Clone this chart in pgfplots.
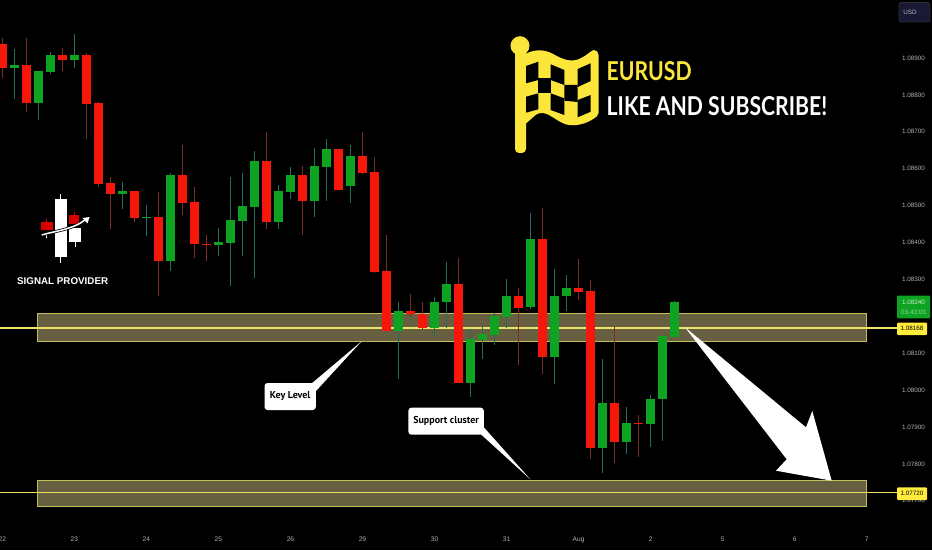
\documentclass[border=0pt]{standalone}
\usepackage{pgfplots}
\usepackage{pgfplotstable}
\usepackage{fontspec}
\pgfplotsset{compat=1.18}
\setmainfont{Liberation Sans}
\newfontfamily\headfont[FakeStretch=0.815]{Lato}
\newfontfamily\callfont{PT Sans}
\definecolor{cred}{HTML}{F5170A}
\definecolor{cgreen}{HTML}{0FA322}
\definecolor{wred}{HTML}{7A2E26}
\definecolor{wgreen}{HTML}{1E6E58}
\definecolor{zonefill}{HTML}{666040}
\definecolor{zoneline}{HTML}{C4BD5C}
\definecolor{lvl}{HTML}{EDE56A}
\definecolor{tagy}{HTML}{FFEB3B}
\definecolor{flagy}{HTML}{FDE63C}
\definecolor{ticktext}{HTML}{B4B4B4}
% candle index, high, body top, body bottom, low
\pgfplotstableread{
i h t b l
0 1.08954 1.08938 1.08874 1.08846
2 1.08953 1.08880 1.08779 1.08754
5 1.08926 1.08907 1.08895 1.08866
7 1.08914 1.08908 1.08776 1.08681
8 1.08782 1.08778 1.08559 1.08551
9 1.08578 1.08561 1.08532 1.08437
11 1.08540 1.08539 1.08467 1.08456
13 1.08536 1.08468 1.08351 1.08255
15 1.08663 1.08583 1.08508 1.08475
16 1.08550 1.08510 1.08396 1.08358
17 1.08420 1.08397 1.08393 1.08351
22 1.08699 1.08621 1.08456 1.08436
25 1.08608 1.08583 1.08512 1.08421
28 1.08653 1.08653 1.08543 1.08543
30 1.08699 1.08634 1.08589 1.08586
31 1.08633 1.08591 1.08320 1.08318
32 1.08420 1.08323 1.08160 1.08160
34 1.08260 1.08214 1.08206 1.08199
35 1.08239 1.08206 1.08169 1.08163
38 1.08359 1.08288 1.08020 1.08020
43 1.08276 1.08254 1.08223 1.08068
45 1.08493 1.08409 1.08091 1.08044
48 1.08354 1.08276 1.08267 1.08244
49 1.08298 1.08268 1.07843 1.07814
51 1.08174 1.07964 1.07860 1.07802
53 1.07933 1.07912 1.07909 1.07819
}\reds
\pgfplotstableread{
i h t b l
1 1.08924 1.08880 1.08874 1.08788
3 1.08865 1.08865 1.08779 1.08732
4 1.08915 1.08908 1.08862 1.08857
6 1.08965 1.08907 1.08895 1.08874
10 1.08565 1.08539 1.08532 1.08492
12 1.08502 1.08469 1.08466 1.08418
14 1.08589 1.08582 1.08351 1.08324
18 1.08439 1.08401 1.08393 1.08363
19 1.08578 1.08461 1.08399 1.08283
20 1.08589 1.08499 1.08458 1.08363
21 1.08647 1.08621 1.08497 1.08303
23 1.08555 1.08540 1.08456 1.08437
24 1.08605 1.08583 1.08538 1.08519
26 1.08656 1.08607 1.08512 1.08469
27 1.08681 1.08653 1.08605 1.08513
29 1.08664 1.08634 1.08554 1.08508
33 1.08240 1.08214 1.08160 1.08029
36 1.08252 1.08240 1.08169 1.08147
37 1.08347 1.08288 1.08240 1.08167
39 1.08165 1.08138 1.08020 1.07982
40 1.08174 1.08151 1.08136 1.08085
41 1.08209 1.08200 1.08149 1.08122
42 1.08301 1.08254 1.08199 1.08168
44 1.08481 1.08409 1.08224 1.08219
46 1.08328 1.08255 1.08091 1.08017
47 1.08311 1.08276 1.08256 1.08215
50 1.08085 1.07964 1.07843 1.07775
52 1.07955 1.07911 1.07860 1.07827
54 1.07986 1.07976 1.07909 1.07846
55 1.08147 1.08146 1.07976 1.07863
56 1.08241 1.08240 1.08144 1.08144
}\greens
\newcommand{\candles}[3]{%
\addplot[draw=none, no markers, forget plot, error bars/.cd, y dir=both, y explicit, error mark=none,
  error bar style={draw=#2, line width=0.9pt}]
  table[x=i, y=t, y error plus expr=\thisrow{h}-\thisrow{t}, y error minus expr=\thisrow{t}-\thisrow{l}] {#1};
\addplot[draw=none, no markers, forget plot, error bars/.cd, y dir=minus, y explicit, error mark=none,
  error bar style={draw=#3, line width=8.8pt}]
  table[x=i, y=t, y error minus expr=\thisrow{t}-\thisrow{b}] {#1};
}
\begin{document}
\begin{tikzpicture}
\useasboundingbox (0,0) rectangle (932pt,550pt);
\begin{axis}[
  scale only axis, width=932pt, height=550pt,
  xmin=-0.192, xmax=77.44, ymin=1.075667, ymax=1.090572,
  axis background/.style={fill=black},
  axis line style={draw=none},
  major tick length=0pt,
  tick style={draw=none},
  xtick={0,6,12,18,24,30,36,42,48,54,60,66,72},
  xticklabels={22,23,24,25,26,29,30,31,Aug,2,5,6,7},
  ytick={1.077,1.078,1.079,1.080,1.081,1.083,1.084,1.085,1.086,1.087,1.088,1.089},
  yticklabels={1.07700,1.07800,1.07900,1.08000,1.08100,1.08300,1.08400,1.08500,1.08600,1.08700,1.08800,1.08900},
  yticklabel pos=right,
  xticklabel style={anchor=center, yshift=10.5pt, text=ticktext, font=\fontsize{6.6}{7}\selectfont},
  yticklabel style={anchor=center, xshift=-18.5pt, text=ticktext, font=\fontsize{6.3}{7}\selectfont},
]
\addplot[fill=zonefill, draw=zoneline, line width=1pt, forget plot]
  coordinates {(2.97,1.08207)(72,1.08207)(72,1.08133)(2.97,1.08133)} --cycle;
\addplot[fill=zonefill, draw=zoneline, line width=1pt, forget plot]
  coordinates {(2.97,1.07756)(72,1.07756)(72,1.07684)(2.97,1.07684)} --cycle;
\addplot[draw=lvl, line width=1.3pt, forget plot] coordinates {(-0.192,1.08168)(74.6,1.08168)};
\addplot[draw=lvl, line width=1.3pt, forget plot] coordinates {(-0.192,1.07722)(74.6,1.07722)};
\candles{\reds}{wred}{cred}
\candles{\greens}{wgreen}{cgreen}
\end{axis}
\begin{scope}[x=1pt, y=-1pt, shift={(0pt,550pt)}]
  % trend arrow
  \fill[white] (685,327.3) -- (806,427.3) -- (812.3,411) -- (831.7,480.7) -- (776,470.7) -- (786.7,459.3) -- cycle;
  % callouts
  \fill[white] (361.6,341.3) -- (311,384) -- (316,391) -- cycle;
  \fill[white, rounded corners=3pt] (264.5,383) rectangle (315.8,410);
  \node[text=black, font=\callfont\bfseries\fontsize{10}{11}\selectfont, inner sep=0pt] at (290.2,396.5) {Key Level};
  \fill[white] (530.3,479.3) -- (479.5,433) -- (484,427.5) -- cycle;
  \fill[white, rounded corners=3pt] (408.4,407.7) rectangle (483.8,434.7);
  \node[text=black, font=\callfont\bfseries\fontsize{10}{11}\selectfont, inner sep=0pt] at (446.1,421) {Support cluster};
  % price tags
  \fill[cgreen, rounded corners=1pt] (897,295.7) rectangle (930,318.3);
  \node[text=white!80!cgreen, font=\fontsize{6.3}{7}\selectfont, inner sep=0pt] at (913.5,302.3) {1.08240};
  \node[text=white!55!cgreen, font=\fontsize{6.3}{7}\selectfont, inner sep=0pt] at (913.5,312.3) {03:43:03};
  \fill[tagy, rounded corners=1pt] (897,322.7) rectangle (927,335);
  \node[text=black, font=\fontsize{6.3}{7}\selectfont, inner sep=0pt] at (912,328.8) {1.08168};
  \fill[tagy, rounded corners=1pt] (897,487.3) rectangle (927,500);
  \node[text=black, font=\fontsize{6.3}{7}\selectfont, inner sep=0pt] at (912,493.6) {1.07720};
  % USD button
  \filldraw[fill=black!88!blue!90!white, draw=white!18!black, line width=0.6pt, rounded corners=2pt] (899,2.5) rectangle (930,22);
  \node[text=ticktext, font=\fontsize{6.3}{7}\selectfont, inner sep=0pt] at (910,12.3) {USD};
  % flag
  \fill[flagy] (520,45.7) circle (9.5);
  \fill[flagy, rounded corners=4pt] (515,48) -- (526,48) -- (526,153) -- (515,153) -- cycle;
  \fill[flagy, rounded corners=2pt] (522,56) .. controls (532,50) and (542,48) .. (555,55)
     .. controls (566,61) and (574,62) .. (583,57) .. controls (588,54) and (592,50) .. (596,50)
     -- (598.5,53) -- (598.5,115) .. controls (590,122) and (580,126) .. (568,125)
     .. controls (558,122) and (550,114) .. (542,113) .. controls (536,113) and (530,121) .. (522,126) -- cycle;
  \fill[black] (526,66) -- (538.3,61.7) -- (538.3,80) -- (526,83.3) -- cycle;
  \fill[black] (550.7,64.3) -- (564.3,70) -- (564.3,85) -- (550.7,80) -- cycle;
  \fill[black] (577.7,69) -- (590.7,63.3) -- (590.7,81) -- (577.7,87) -- cycle;
  \fill[black] (538.3,78) -- (550.7,78) -- (550.7,93.3) -- (538.3,93.3) -- cycle;
  \fill[black] (564.3,85) -- (577.7,85) -- (577.7,102) -- (564.3,100.7) -- cycle;
  \fill[black] (526,96.7) -- (538.3,93.3) -- (538.3,109.3) -- (526,112.7) -- cycle;
  \fill[black] (550.7,93.3) -- (564.3,98.3) -- (564.3,115) -- (550.7,110) -- cycle;
  \fill[black] (577.7,100) -- (590.7,95) -- (590.7,111.7) -- (577.7,117.3) -- cycle;
  % headline
  \node[anchor=base west, text=flagy, font=\headfont\bfseries\fontsize{26}{28}\selectfont, inner sep=0pt] at (606.5,80.2) {EURUSD};
  \node[anchor=base west, text=white, font=\headfont\bfseries\fontsize{26}{28}\selectfont, inner sep=0pt] at (606.5,115.2) {LIKE AND SUBSCRIBE!};
  % logo
  \fill[white] (60.3,194.3) rectangle (61.3,263.3);
  \fill[white] (55,199) rectangle (66.7,256.7);
  \fill[white] (74.5,240) rectangle (75.5,246.7);
  \fill[white] (69,228) rectangle (80.7,241.7);
  \fill[red!85!black] (73.5,212) rectangle (74.5,216);
  \fill[red!85!black] (69,215) rectangle (79,224.3);
  \fill[red!85!black] (46.2,219) rectangle (47.2,223);
  \fill[red!85!black] (41,222) rectangle (52.7,230);
  \fill[white] (46.2,234) rectangle (47.2,238);
  \draw[black, line width=3pt] (42,235) .. controls (55,231) and (75,229) .. (86,219);
  \draw[white, line width=1.5pt] (41.7,235) .. controls (55,231) and (75,229) .. (86,219);
  \fill[white] (89.5,217) -- (82.5,218) -- (87.5,223.5) -- cycle;
  \node[anchor=base west, text=white, font=\bfseries\fontsize{9.8}{11}\selectfont, inner sep=0pt] at (17,284) {SIGNAL PROVIDER};
\end{scope}
\end{tikzpicture}
\end{document}
